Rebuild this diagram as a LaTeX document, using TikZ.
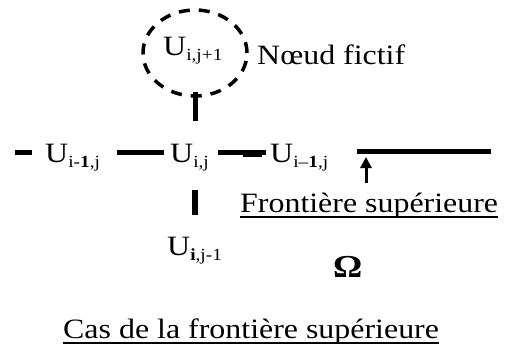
\documentclass[tikz,border=0pt]{standalone}
\usepackage{fontspec}
\setmainfont{Liberation Serif}[FakeStretch=1.14]
\usetikzlibrary{arrows.meta,shapes.geometric}
% U with a lowered, smaller index
\newcommand\Ulab[1]{U\raisebox{-5pt}{\fontsize{17}{18}\selectfont #1}}
\begin{document}
\begin{tikzpicture}[x=1pt,y=-1pt,
  lbl/.style={inner sep=0pt, font=\fontsize{28}{30}\selectfont, anchor=base west},
  bar/.style={line width=5pt},
  uline/.style={line width=1.2pt}]
\useasboundingbox (0,0) rectangle (505,349);

% fictitious node
\node[ellipse, draw, line width=3.5pt, dash pattern=on 11pt off 9pt,
      minimum width=104pt, minimum height=86pt, inner sep=0pt] (fict) at (195,53) {};
\node[lbl] (up) at (163,55) {\Ulab{i,j+1}};
\node[lbl] (nf) at (257,64) {Nœud fictif};

% grid row
\node[lbl] (ul) at (45,162) {\Ulab{i-\textbf{1},j}};
\node[lbl] (uc) at (170,162) {\Ulab{i,j}};
\node[lbl] (ur) at (270,162) {\Ulab{i–\textbf{1},j}};
\node[lbl] (ud) at (167,255) {\Ulab{\textbf{i},j-1}};
\node[lbl, font=\fontsize{32}{34}\selectfont\bfseries] (om) at (333,277) {Ω};

% boundary label and caption
\node[lbl] (fs) at (240,212) {Frontière supérieure};
\draw[uline] ([yshift=-5pt]fs.base west) -- ([yshift=-5pt]fs.base east);
\node[lbl] (cap) at (63,338) {Cas de la frontière supérieure};
\draw[uline] ([yshift=-5pt]cap.base west) -- ([yshift=-5pt]cap.base east);

% connectors of the stencil
\coordinate (l0) at (15,152);  \coordinate (l1) at (32,152);
\coordinate (a0) at (117,152); \coordinate (a1) at (164,152);
\coordinate (b0) at (218,152); \coordinate (b1) at (266,152);
\coordinate (b2) at (243,153); \coordinate (b3) at (262,153);
\draw[bar] (l0) -- (l1);
\draw[bar] (a0) -- (a1);
\draw[bar] (b0) -- (b1);
\draw[line width=7pt] (b2) -- (b3);
\coordinate (s0) at (195,121);
\draw[bar] ([yshift=6pt]fict.south) -- (s0);
\coordinate (d0) at (195,190); \coordinate (d1) at (195,215);
\draw[line width=6pt] (d0) -- (d1);

% upper boundary
\coordinate (f0) at (357,151); \coordinate (f1) at (491,151);
\draw[bar] (f0) -- (f1);
\coordinate (p0) at (366,183); \coordinate (p1) at (366,157);
\draw[line width=3pt, -{Triangle[length=11pt,width=11pt]}] (p0) -- (p1);
\end{tikzpicture}
\end{document}
